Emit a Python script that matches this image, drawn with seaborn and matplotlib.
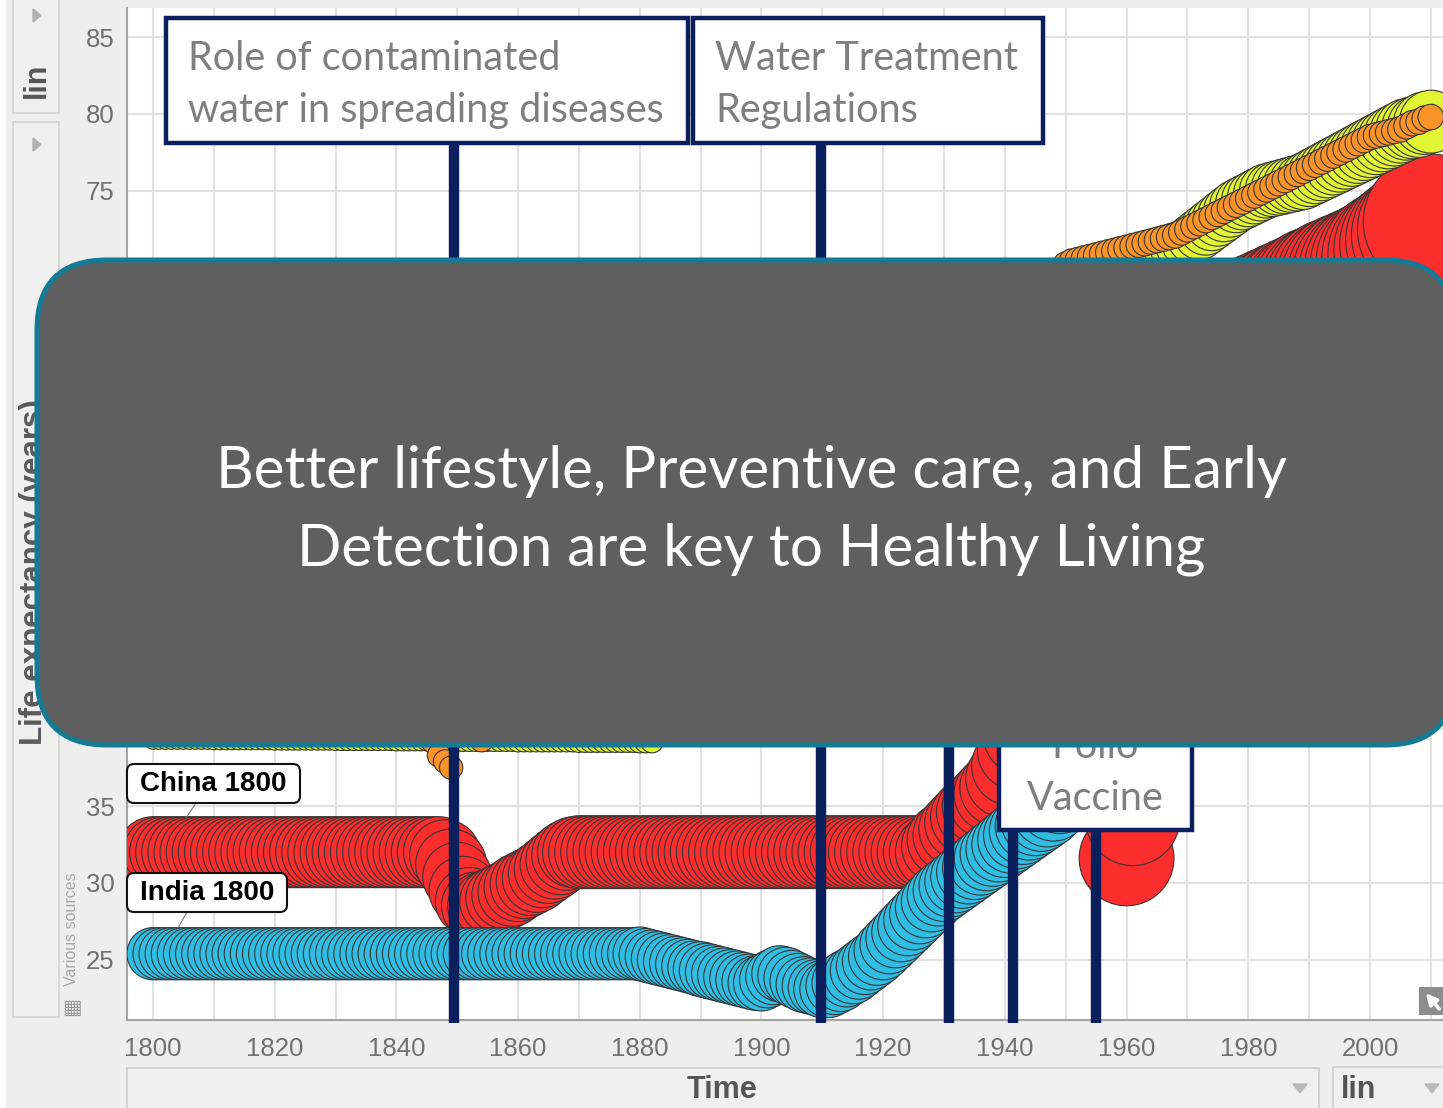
import matplotlib
matplotlib.use("Agg")
import matplotlib.pyplot as plt
import pandas as pd
import seaborn as sns
from matplotlib.patches import FancyBboxPatch, Rectangle, Polygon

W, H = 1443, 1108

# ---- data (one bubble per year) ----
years = list(range(1800, 2011))

china_life = [
    32.0, 32.0, 32.0, 32.0, 32.0, 32.0, 32.0, 32.0, 32.0, 32.0,
    32.0, 32.0, 32.0, 32.0, 32.0, 32.0, 32.0, 32.0, 32.0, 32.0,
    32.0, 32.0, 32.0, 32.0, 32.0, 32.0, 32.0, 32.0, 32.0, 32.0,
    32.0, 32.0, 32.0, 32.0, 32.0, 32.0, 32.0, 32.0, 32.0, 32.0,
    32.0, 32.0, 32.0, 32.0, 32.0, 32.0, 32.0, 32.0, 31.8, 31.2,
    30.4, 29.5, 28.8, 28.5, 28.5, 28.6, 28.8, 29.0, 29.2, 29.4,
    29.7, 29.9, 30.1, 30.3, 30.6, 30.9, 31.2, 31.5, 31.8, 32.0,
    32.0, 32.0, 32.0, 32.0, 32.0, 32.0, 32.0, 32.0, 32.0, 32.0,
    32.0, 32.0, 32.0, 32.0, 32.0, 32.0, 32.0, 32.0, 32.0, 32.0,
    32.0, 32.0, 32.0, 32.0, 32.0, 32.0, 32.0, 32.0, 32.0, 32.0,
    32.0, 32.0, 32.0, 32.0, 32.0, 32.0, 32.0, 32.0, 32.0, 32.0,
    32.0, 32.0, 32.0, 32.0, 32.0, 32.0, 32.0, 32.0, 32.0, 32.0,
    32.0, 32.0, 32.0, 32.0, 32.0, 32.0, 32.0, 32.0, 32.0, 32.4,
    32.8, 33.1, 33.5, 33.9, 34.3, 34.6, 35.0, 35.4, 35.8, 36.2,
    36.8, 37.6, 38.6, 39.6, 40.6, 41.6, 42.6, 43.6, 44.6, 45.6,
    46.6, 47.6, 48.6, 49.6, 50.6, 51.6, 52.6, 53.4, 50.0, 43.5,
    31.6, 34.2, 46.0, 50.0, 53.0, 55.5, 57.0, 58.5, 59.5, 60.5,
    61.3, 62.0, 62.6, 63.2, 63.8, 64.4, 64.9, 65.4, 65.9, 66.4,
    66.8, 67.0, 67.2, 67.3, 67.5, 67.6, 67.8, 67.9, 68.1, 68.2,
    68.4, 68.6, 68.7, 68.9, 69.1, 69.2, 69.4, 69.5, 69.7, 69.8,
    70.0, 70.2, 70.4, 70.7, 70.9, 71.2, 71.5, 71.8, 72.1, 72.5,
    73.0,
]
china_pop = [
    370, 370, 370, 370, 370, 370, 370, 370, 370, 370,
    370, 370, 370, 370, 370, 370, 370, 370, 370, 370,
    370, 370, 370, 370, 370, 370, 370, 370, 370, 370,
    370, 370, 370, 370, 370, 370, 370, 370, 370, 370,
    370, 370, 370, 370, 370, 370, 370, 370, 370, 370,
    350, 345, 340, 340, 340, 340, 340, 340, 340, 340,
    340, 340, 340, 340, 340, 345, 350, 355, 360, 365,
    390, 390, 390, 390, 390, 390, 390, 390, 390, 390,
    390, 390, 390, 390, 390, 390, 390, 390, 390, 390,
    390, 390, 390, 390, 390, 390, 390, 390, 390, 390,
    390, 390, 390, 390, 390, 390, 390, 390, 390, 390,
    390, 390, 390, 390, 390, 390, 390, 390, 390, 390,
    390, 390, 390, 390, 390, 390, 390, 390, 390, 390,
    400, 405, 410, 415, 420, 425, 430, 435, 440, 445,
    450, 455, 460, 465, 470, 480, 490, 500, 515, 530,
    545, 560, 575, 590, 600, 615, 625, 640, 650, 660,
    660, 655, 665, 685, 700, 720, 740, 760, 780, 800,
    820, 840, 860, 880, 900, 915, 930, 945, 955, 970,
    980, 995, 1010, 1025, 1040, 1055, 1070, 1085, 1100, 1120,
    1140, 1150, 1165, 1175, 1185, 1200, 1210, 1220, 1230, 1245,
    1260, 1270, 1280, 1290, 1295, 1300, 1310, 1315, 1325, 1330,
    1340,
]

india_life = [
    25.4, 25.4, 25.4, 25.4, 25.4, 25.4, 25.4, 25.4, 25.4, 25.4,
    25.4, 25.4, 25.4, 25.4, 25.4, 25.4, 25.4, 25.4, 25.4, 25.4,
    25.4, 25.4, 25.4, 25.4, 25.4, 25.4, 25.4, 25.4, 25.4, 25.4,
    25.4, 25.4, 25.4, 25.4, 25.4, 25.4, 25.4, 25.4, 25.4, 25.4,
    25.4, 25.4, 25.4, 25.4, 25.4, 25.4, 25.4, 25.4, 25.4, 25.4,
    25.4, 25.4, 25.4, 25.4, 25.4, 25.4, 25.4, 25.4, 25.4, 25.4,
    25.4, 25.4, 25.4, 25.4, 25.4, 25.4, 25.4, 25.4, 25.4, 25.4,
    25.4, 25.4, 25.4, 25.4, 25.4, 25.4, 25.4, 25.4, 25.4, 25.4,
    25.4, 25.3, 25.2, 25.1, 25.0, 24.9, 24.8, 24.7, 24.6, 24.5,
    24.4, 24.3, 24.2, 24.1, 24.0, 23.9, 23.8, 23.7, 23.6, 23.5,
    23.5, 23.7, 23.9, 24.1, 24.0, 23.8, 23.6, 23.4, 23.3, 23.2,
    23.1, 23.1, 23.3, 23.5, 23.8, 24.0, 24.3, 24.6, 24.9, 25.2,
    25.6, 26.0, 26.4, 26.8, 27.2, 27.6, 28.0, 28.4, 28.8, 29.2,
    29.5, 29.8, 30.1, 30.4, 30.7, 31.0, 31.3, 31.6, 31.9, 32.2,
    32.5, 32.8, 33.1, 33.4, 33.7, 34.0, 34.3, 34.6, 35.0, 35.5,
    36.2, 37.0, 37.8, 38.6, 39.4, 40.2, 41.0, 41.8, 42.6, 43.4,
    44.0, 44.6, 45.2, 45.8, 46.4, 47.0, 47.6, 48.2, 48.8, 49.4,
    50.0, 50.6, 51.2, 51.8, 52.4, 53.0, 53.5, 54.0, 54.5, 55.0,
    55.5, 55.9, 56.3, 56.7, 57.1, 57.5, 57.9, 58.3, 58.7, 59.1,
    59.4, 59.7, 60.0, 60.3, 60.6, 60.9, 61.2, 61.5, 61.8, 62.1,
    62.3, 62.5, 62.7, 62.9, 63.1, 63.3, 63.5, 63.7, 63.8, 63.9,
    64.0,
]
india_pop = [
    200, 200, 200, 200, 200, 200, 200, 200, 200, 200,
    200, 200, 200, 200, 200, 200, 200, 200, 200, 200,
    200, 200, 200, 200, 200, 200, 200, 200, 200, 200,
    200, 200, 200, 200, 200, 200, 200, 200, 200, 200,
    200, 200, 200, 200, 200, 200, 200, 200, 200, 200,
    200, 200, 200, 200, 200, 200, 200, 200, 200, 200,
    200, 200, 200, 200, 200, 200, 200, 200, 200, 200,
    200, 200, 200, 200, 200, 200, 200, 200, 200, 200,
    210, 210, 210, 210, 210, 210, 210, 210, 210, 210,
    220, 220, 220, 220, 220, 220, 220, 220, 220, 220,
    230, 230, 230, 230, 230, 230, 230, 230, 230, 230,
    240, 240, 240, 240, 240, 240, 240, 240, 240, 240,
    250, 252, 255, 258, 260, 263, 266, 270, 273, 276,
    280, 284, 288, 292, 296, 300, 304, 308, 312, 316,
    320, 325, 330, 335, 340, 345, 350, 355, 360, 365,
    370, 376, 382, 388, 395, 402, 410, 418, 426, 435,
    445, 455, 465, 475, 485, 495, 505, 515, 525, 540,
    555, 570, 585, 600, 615, 630, 645, 660, 675, 690,
    705, 720, 735, 750, 765, 780, 795, 810, 825, 840,
    860, 875, 890, 905, 920, 935, 950, 965, 980, 995,
    1010, 1030, 1045, 1060, 1075, 1090, 1105, 1120, 1135, 1150,
    1165,
]

usa_life = [
    39.2, 39.2, 39.2, 39.2, 39.2, 39.2, 39.2, 39.2, 39.2, 39.2,
    39.2, 39.2, 39.2, 39.2, 39.2, 39.2, 39.2, 39.2, 39.2, 39.2,
    39.2, 39.2, 39.2, 39.2, 39.2, 39.2, 39.2, 39.2, 39.2, 39.2,
    39.2, 39.2, 39.2, 39.2, 39.2, 39.2, 39.2, 39.2, 39.2, 39.2,
    39.2, 39.2, 39.2, 39.2, 39.2, 39.2, 39.2, 39.2, 39.2, 39.2,
    39.2, 39.2, 39.2, 39.2, 39.2, 39.2, 39.2, 39.2, 39.2, 39.2,
    39.2, 39.2, 39.2, 39.2, 39.2, 39.2, 39.2, 39.2, 39.2, 39.2,
    39.2, 39.2, 39.2, 39.2, 39.2, 39.2, 39.2, 39.2, 39.2, 39.2,
    39.2, 39.2, 39.2, 40.0, 40.3, 40.6, 40.9, 41.2, 41.5, 41.8,
    42.1, 42.4, 42.7, 43.0, 43.3, 43.6, 43.9, 44.2, 44.5, 44.8,
    45.1, 45.5, 45.9, 46.3, 46.7, 47.1, 47.5, 47.9, 48.3, 48.7,
    49.1, 49.6, 50.1, 50.6, 51.1, 51.6, 52.1, 52.6, 53.1, 53.6,
    54.1, 54.7, 55.3, 55.9, 56.5, 57.1, 57.7, 58.3, 58.9, 59.5,
    60.0, 60.5, 61.0, 61.5, 62.0, 62.5, 63.0, 63.5, 64.0, 64.5,
    65.0, 65.4, 65.8, 66.2, 66.6, 67.0, 67.4, 67.8, 68.2, 68.5,
    68.8, 69.1, 69.4, 69.6, 69.8, 70.0, 70.1, 70.2, 70.3, 70.4,
    70.5, 70.6, 70.7, 70.8, 70.9, 71.0, 71.1, 71.2, 71.3, 71.4,
    71.6, 71.9, 72.2, 72.5, 72.8, 73.1, 73.4, 73.7, 74.0, 74.2,
    74.4, 74.6, 74.8, 75.0, 75.1, 75.2, 75.3, 75.4, 75.5, 75.6,
    75.8, 76.0, 76.2, 76.4, 76.6, 76.8, 77.0, 77.2, 77.4, 77.6,
    77.8, 78.0, 78.2, 78.4, 78.6, 78.8, 79.0, 79.1, 79.2, 79.4,
    79.5,
]
usa_pop = [
    18, 18, 18, 18, 18, 18, 18, 18, 18, 18,
    20, 20, 20, 20, 20, 20, 20, 20, 20, 20,
    22, 22, 22, 22, 22, 22, 22, 22, 22, 22,
    24, 24, 24, 24, 24, 24, 24, 24, 24, 24,
    26, 26, 26, 26, 26, 26, 26, 26, 26, 26,
    29, 29, 29, 29, 29, 29, 29, 29, 29, 29,
    32, 32, 32, 32, 32, 32, 32, 32, 32, 32,
    35, 35, 35, 35, 35, 35, 35, 35, 35, 35,
    38, 38, 38, 38, 38, 38, 38, 38, 38, 38,
    45, 45, 45, 45, 45, 45, 45, 45, 45, 45,
    55, 55, 55, 55, 55, 55, 55, 55, 55, 55,
    70, 70, 70, 70, 70, 70, 70, 70, 70, 70,
    85, 85, 85, 85, 85, 85, 85, 85, 85, 85,
    100, 100, 100, 100, 100, 100, 100, 100, 100, 100,
    115, 115, 115, 115, 115, 115, 115, 115, 115, 115,
    130, 133, 136, 139, 142, 145, 148, 151, 154, 157,
    160, 163, 166, 169, 172, 175, 178, 181, 184, 187,
    190, 192, 194, 196, 198, 200, 202, 204, 206, 208,
    210, 212, 214, 216, 218, 220, 222, 224, 226, 228,
    230, 233, 236, 239, 242, 245, 248, 251, 254, 257,
    260, 263, 266, 269, 272, 275, 278, 281, 284, 287,
    290,
]

uk_life = [
    40.0, 40.0, 40.0, 40.0, 40.0, 40.0, 40.0, 40.0, 40.0, 40.0,
    40.0, 40.0, 40.0, 40.0, 40.0, 40.0, 40.0, 40.0, 40.0, 40.0,
    40.0, 40.0, 40.0, 40.0, 40.0, 40.0, 40.0, 40.0, 40.0, 40.0,
    40.0, 40.0, 40.0, 40.0, 40.0, 40.0, 40.0, 40.0, 40.0, 40.0,
    40.0, 40.0, 40.0, 40.0, 40.0, 40.0, 39.2, 38.3, 37.9, 37.5,
    39.6, 40.0, 40.0, 39.8, 39.3, 39.8, 40.0, 40.2, 40.4, 40.6,
    40.8, 41.0, 41.2, 41.4, 41.6, 41.8, 42.0, 42.2, 42.4, 42.6,
    42.8, 43.0, 43.2, 43.4, 43.6, 43.8, 44.0, 44.2, 44.4, 44.6,
    44.8, 45.0, 45.2, 45.4, 45.6, 45.8, 46.0, 46.2, 46.4, 46.6,
    46.8, 47.0, 47.2, 47.4, 47.6, 47.8, 48.0, 48.2, 48.4, 48.6,
    49.0, 49.4, 49.8, 50.2, 50.6, 51.0, 51.4, 51.8, 52.2, 52.6,
    53.0, 53.4, 53.8, 54.2, 54.6, 55.0, 55.4, 55.8, 56.2, 56.6,
    57.0, 57.4, 57.8, 58.2, 58.6, 59.0, 59.4, 59.8, 60.2, 60.6,
    61.0, 61.3, 61.6, 61.9, 62.2, 62.5, 62.8, 63.1, 63.4, 63.7,
    64.0, 64.6, 65.2, 65.8, 66.4, 67.0, 67.6, 68.2, 68.8, 69.4,
    70.2, 70.4, 70.5, 70.6, 70.7, 70.8, 70.9, 71.0, 71.1, 71.2,
    71.3, 71.4, 71.5, 71.6, 71.7, 71.8, 71.9, 72.0, 72.1, 72.3,
    72.5, 72.7, 72.9, 73.1, 73.3, 73.5, 73.7, 73.9, 74.1, 74.3,
    74.5, 74.7, 74.9, 75.1, 75.3, 75.5, 75.7, 75.9, 76.1, 76.3,
    76.5, 76.7, 76.9, 77.1, 77.3, 77.5, 77.7, 77.9, 78.1, 78.3,
    78.5, 78.6, 78.7, 78.8, 78.9, 79.0, 79.2, 79.4, 79.5, 79.7,
    79.8,
]
uk_pop = [
    40, 40, 40, 40, 40, 40, 40, 40, 40, 40,
    40, 40, 40, 40, 40, 40, 40, 40, 40, 40,
    40, 40, 40, 40, 40, 40, 40, 40, 40, 40,
    40, 40, 40, 40, 40, 40, 40, 40, 40, 40,
    40, 40, 40, 40, 40, 40, 40, 40, 40, 40,
    42, 42, 42, 42, 42, 42, 42, 42, 42, 42,
    42, 42, 42, 42, 42, 42, 42, 42, 42, 42,
    42, 42, 42, 42, 42, 42, 42, 42, 42, 42,
    42, 42, 42, 42, 42, 42, 42, 42, 42, 42,
    42, 42, 42, 42, 42, 42, 42, 42, 42, 42,
    45, 45, 45, 45, 45, 45, 45, 45, 45, 45,
    45, 45, 45, 45, 45, 45, 45, 45, 45, 45,
    45, 45, 45, 45, 45, 45, 45, 45, 45, 45,
    45, 45, 45, 45, 45, 45, 45, 45, 45, 45,
    45, 45, 45, 45, 45, 45, 45, 45, 45, 45,
    48, 48, 48, 48, 48, 48, 48, 48, 48, 48,
    48, 48, 48, 48, 48, 48, 48, 48, 48, 48,
    48, 48, 48, 48, 48, 48, 48, 48, 48, 48,
    48, 48, 48, 48, 48, 48, 48, 48, 48, 48,
    48, 48, 48, 48, 48, 48, 48, 48, 48, 48,
    48, 48, 48, 48, 48, 48, 48, 48, 48, 48,
    48,
]

countries = ["China", "India", "United States", "United Kingdom"]
colors = {"China": "#fb2d2d", "India": "#2fbde3",
          "United States": "#e1f535", "United Kingdom": "#fa9428"}

# milestone annotations (year of the vertical line)
event_years = [1849.5, 1909.8, 1930.8, 1941.3, 1955.0]
event_tops = [0.867, 0.867, 0.5, 0.5, 0.188]

frames = []
for name, life, pop in zip(countries,
                           [china_life, india_life, usa_life, uk_life],
                           [china_pop, india_pop, usa_pop, uk_pop]):
    assert len(life) == len(years) and len(pop) == len(years), name
    frames.append(pd.DataFrame({"year": years, "life_exp": life,
                                "pop": pop, "country": name}))
df = pd.concat(frames, ignore_index=True)

sns.set_theme(style="whitegrid")
plt.rcParams["font.family"] = ["Liberation Sans", "DejaVu Sans"]
callout = ["Lato", "DejaVu Sans"]
navy = "#0a1f5c"

fig = plt.figure(figsize=(W / 100, H / 100), dpi=100, facecolor="#eeeeee")
ax = fig.add_axes([127 / W, 88 / H, 1 - 127 / W, 1012 / H])
ax.set_facecolor("white")

sns.scatterplot(data=df, x="year", y="life_exp", hue="country", palette=colors,
                size="pop", sizes=(0, 10590), size_norm=(0, 1500),
                edgecolor="#363636", linewidth=0.8, legend=False, ax=ax, zorder=3)

ax.set_xlim(1795.73, 2012.0)
ax.set_ylim(21.09, 86.89)
ax.set_xticks(list(range(1800, 2011, 10)))
ax.set_xticklabels([str(y) if y % 20 == 0 else "" for y in range(1800, 2011, 10)])
ax.set_yticks(list(range(25, 90, 5)))
ax.set_xlabel("")
ax.set_ylabel("")
ax.grid(True, color="#e1e1e1", lw=1.5)
ax.set_axisbelow(True)
for side in ["top", "right"]:
    ax.spines[side].set_visible(False)
for side in ["left", "bottom"]:
    ax.spines[side].set_color("#a3a3a3")
    ax.spines[side].set_linewidth(1.5)
ax.tick_params(axis="x", length=6, width=1.3, colors="#a3a3a3",
               labelcolor="#707070", labelsize=18.5, pad=6)
ax.tick_params(axis="y", length=5, width=1.3, colors="#a3a3a3",
               labelcolor="#707070", labelsize=18.5, pad=4)

for yr, top in zip(event_years, event_tops):
    ax.axvline(yr, ymin=-0.003, ymax=top, color=navy, lw=7.5, zorder=10,
               clip_on=False, solid_capstyle="butt")

# ---- page furniture and callouts, in pixel coordinates ----
ov = fig.add_axes([0, 0, 1, 1], zorder=5)
ov.set_xlim(0, W)
ov.set_ylim(H, 0)
ov.axis("off")


def rect(x0, y0, x1, y1, fc, ec, lw, z=2, r=0):
    if r:
        p = FancyBboxPatch((x0, y0), x1 - x0, y1 - y0,
                           boxstyle=f"round,pad=0,rounding_size={r}",
                           fc=fc, ec=ec, lw=lw, zorder=z)
    else:
        p = Rectangle((x0, y0), x1 - x0, y1 - y0, fc=fc, ec=ec, lw=lw, zorder=z)
    ov.add_patch(p)


rect(0, 0, 6, H, "white", "none", 0, z=1)

# left sidebar
rect(13, -10, 59, 113, "#efefef", "#d3d3d3", 1.2)
rect(13, 122, 59, 1017, "#efefef", "#d3d3d3", 1.2)
ov.add_patch(Polygon([(33, 9), (33, 22), (41, 15.5)], color="#b0b0b0", zorder=3))
ov.add_patch(Polygon([(33, 138), (33, 151), (41, 144.5)], color="#b0b0b0", zorder=3))
ov.text(37, 80, "lin", rotation=90, ha="center", va="center", fontsize=22,
        fontweight="bold", color="#555555", zorder=3)
ov.text(34, 572, "Life expectancy (years)", rotation=90, ha="center", va="center",
        fontsize=22.5, fontweight="bold", color="#5a5a5a", zorder=3)
ov.text(72, 929, "Various sources", rotation=90, ha="center", va="center",
        fontsize=11.5, color="#a8a8a8", zorder=3)
ov.text(72, 1008, "\u25a6", ha="center", va="center", fontsize=15,
        color="#9a9a9a", family=["DejaVu Sans"], zorder=3)

# bottom controls
rect(127, 1068, 1319, 1115, "#efefef", "#cfcfcf", 1.3)
rect(1333, 1067, 1450, 1115, "#efefef", "#cfcfcf", 1.3)
ov.text(722, 1090, "Time", ha="center", va="center", fontsize=22,
        fontweight="bold", color="#555555", zorder=3)
ov.text(1359, 1090, "lin", ha="center", va="center", fontsize=22,
        fontweight="bold", color="#555555", zorder=3)
ov.add_patch(Polygon([(1293, 1084), (1307, 1084), (1300, 1093)], color="#b8b8b8", zorder=3))
ov.add_patch(Polygon([(1425, 1084), (1439, 1084), (1432, 1093)], color="#b8b8b8", zorder=3))

# expand icon
rect(1419, 987, 1450, 1015, "#8d8d8d", "none", 0, z=3)
ov.annotate("", xy=(1424, 991), xytext=(1441, 1011), zorder=4,
            arrowprops=dict(arrowstyle="-|>", color="white", lw=2.6, mutation_scale=16))

# country labels
rect(127, 764, 300, 803, "white", "#111111", 1.5, z=3, r=7)
ov.text(213.5, 784, "China 1800", ha="center", va="center", fontsize=20,
        fontweight="bold", color="black", zorder=4)
ov.plot([196, 186], [803, 818], color="#777777", lw=0.8, zorder=2)
rect(127, 873, 287, 912, "white", "#111111", 1.5, z=3, r=7)
ov.text(207, 893, "India 1800", ha="center", va="center", fontsize=20,
        fontweight="bold", color="black", zorder=4)
ov.plot([187, 178], [912, 928], color="#777777", lw=0.8, zorder=2)

# milestone boxes
box_fs = 28.5
rect(166, 18, 688, 143, "white", navy, 3.2, z=6)
ov.text(188, 70, "Role of contaminated", ha="left", va="baseline", fontsize=box_fs,
        color="#7f7f7f", family=callout, zorder=7)
ov.text(188, 122, "water in spreading diseases", ha="left", va="baseline", fontsize=box_fs,
        color="#7f7f7f", family=callout, zorder=7)
rect(693, 18, 1043, 143, "white", navy, 3.2, z=6)
ov.text(715, 70, "Water Treatment", ha="left", va="baseline", fontsize=box_fs,
        color="#7f7f7f", family=callout, zorder=7)
ov.text(715, 122, "Regulations", ha="left", va="baseline", fontsize=box_fs,
        color="#7f7f7f", family=callout, zorder=7)
rect(999, 690, 1192, 830, "white", navy, 3.2, z=6)
ov.text(1095, 758, "Polio", ha="center", va="baseline", fontsize=box_fs,
        color="#7f7f7f", family=callout, zorder=7)
ov.text(1095, 810, "Vaccine", ha="center", va="baseline", fontsize=box_fs,
        color="#7f7f7f", family=callout, zorder=7)

# big message banner
rect(37, 260, 1455, 745, "#5f5f5f", "#137b95", 3.6, z=20, r=70)
ov.text(751, 488, "Better lifestyle, Preventive care, and Early", ha="center",
        va="baseline", fontsize=42, color="white", family=callout, zorder=21)
ov.text(751, 566, "Detection are key to Healthy Living", ha="center",
        va="baseline", fontsize=42, color="white", family=callout, zorder=21)

fig.savefig("out.png", dpi=100, facecolor=fig.get_facecolor())
